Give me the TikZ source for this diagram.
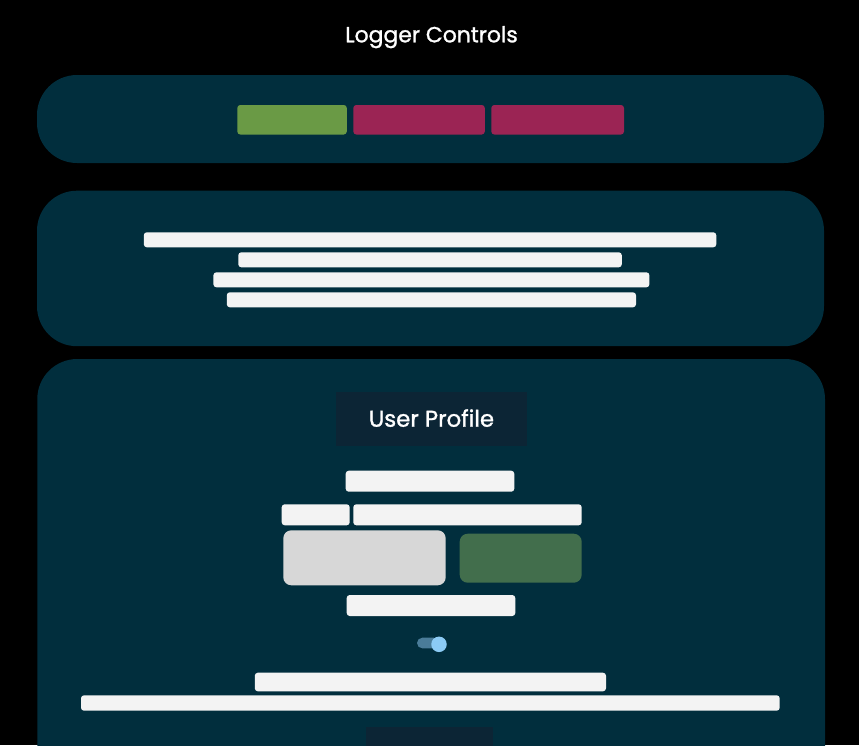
\documentclass[tikz,border=0pt]{standalone}
\usepackage{fontspec}
\setmainfont{Poppins}
\newfontfamily\medfont{Poppins}[FakeBold=1.2]
\definecolor{bgpanel}{HTML}{012E3D}
\definecolor{barwhite}{HTML}{F3F3F3}
\definecolor{btngreen}{HTML}{6A9A45}
\definecolor{btnpink}{HTML}{9B2454}
\definecolor{hdrbox}{HTML}{0C2535}
\definecolor{boxgray}{HTML}{D7D7D7}
\definecolor{boxgreen}{HTML}{426E4C}
\definecolor{tgtrack}{HTML}{4A7C99}
\definecolor{tgknob}{HTML}{8CCBF5}
\tikzset{
  blk/.style={draw=none,inner sep=0pt,outer sep=0pt,anchor=north west},
  panel/.style={blk,fill=bgpanel,rounded corners=40pt},
  bar/.style={blk,fill=barwhite,rounded corners=3pt},
  btn/.style={blk,rounded corners=3pt},
  darkbox/.style={blk,fill=hdrbox},
  wh/.style 2 args={minimum width=#1pt,minimum height=#2pt},
  label/.style={text=white,inner sep=0pt,anchor=base},
}
\begin{document}
\begin{tikzpicture}[x=1pt,y=-1pt]
\fill[black] (0,0) rectangle (859,745);
\useasboundingbox (0,0) rectangle (859,745);
\node[label,font=\medfont\fontsize{21.9}{26}\selectfont] (title) at (431.5,42.3) {Logger Controls};
% panel 1
\node[panel,wh={787}{88}] (p1) at (37,75) {};
\node[btn,fill=btngreen,wh={109.5}{29.5}] (b1) at (237.3,105) {};
\node[btn,fill=btnpink,wh={131.5}{29.5}] (b2) at (353.3,105) {};
\node[btn,fill=btnpink,wh={132.7}{29.5}] (b3) at (491.3,105) {};
% panel 2
\node[panel,wh={787}{155.5}] (p2) at (37,190.7) {};
\node[bar,wh={572.5}{15}] (l1) at (143.8,232.3) {};
\node[bar,wh={383.5}{15}] (l2) at (238.3,252.3) {};
\node[bar,wh={436}{15}] (l3) at (213.4,272.3) {};
\node[bar,wh={409.2}{15}] (l4) at (226.8,292.3) {};
% panel 3
\node[panel,wh={787.7}{440}] (p3) at (37.3,359) {};
\node[darkbox,wh={191.6}{53.4}] (hdr) at (335.7,392.3) {};
\node[label,font=\medfont\fontsize{22.8}{27}\selectfont] (hdrtext) at (431.5,426.7) {User Profile};
\node[bar,wh={168.6}{21}] (r1) at (345.7,470.7) {};
\node[bar,wh={68}{21}] (r2a) at (281.7,504.3) {};
\node[bar,wh={228.4}{21}] (r2b) at (353.3,504.3) {};
\node[blk,fill=boxgray,rounded corners=8pt,wh={162.4}{55}] (gbox) at (283.3,530.3) {};
\node[blk,fill=boxgreen,rounded corners=8pt,wh={122}{49}] (grbox) at (459.7,533.7) {};
\node[bar,wh={168.6}{21}] (r3) at (346.7,595) {};
\node[blk,fill=tgtrack,rounded corners=5.3pt,wh={22}{10.6}] (track) at (417,637.7) {};
\node[circle,fill=tgknob,inner sep=0pt,minimum size=15.5pt] (knob) at (439,644.3) {};
\node[bar,wh={351.2}{18.6}] (r4) at (254.8,672.7) {};
\node[bar,wh={698.7}{15.4}] (r5) at (81,695.3) {};
\node[darkbox,wh={127}{30}] (btm) at (366,727) {};
\end{tikzpicture}
\end{document}
